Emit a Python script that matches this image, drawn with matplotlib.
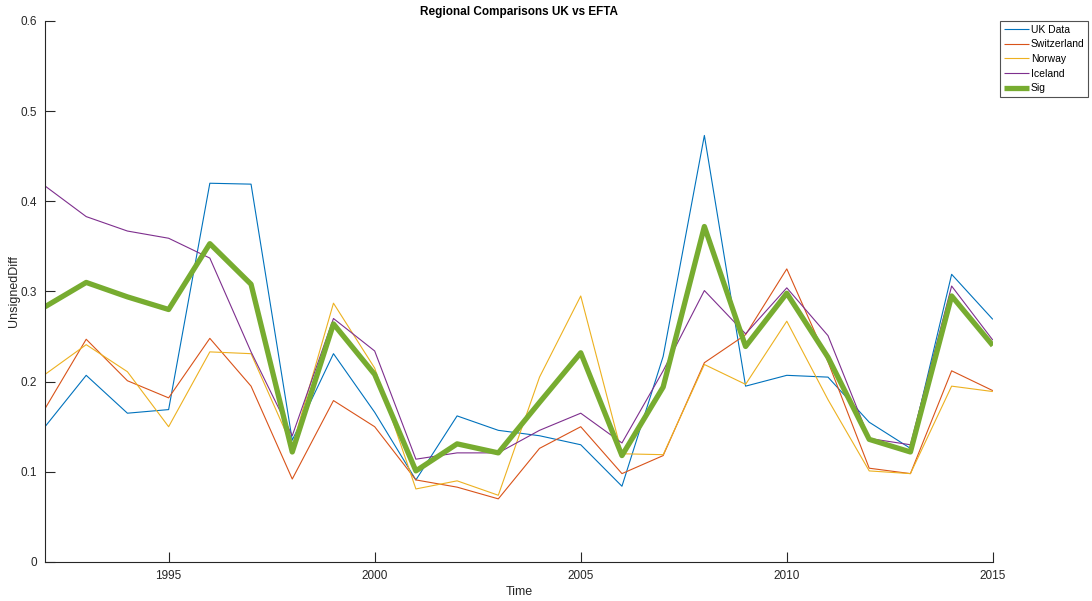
import numpy as np
import matplotlib.pyplot as plt

plt.rcParams['font.family'] = ['Liberation Sans', 'DejaVu Sans']

years = np.arange(1992, 2016)

uk_data = [0.150, 0.207, 0.165, 0.169, 0.420, 0.419, 0.135, 0.231, 0.166, 0.091,
           0.162, 0.146, 0.140, 0.130, 0.084, 0.228, 0.473, 0.195, 0.207, 0.205,
           0.155, 0.126, 0.319, 0.269]
switzerland = [0.170, 0.247, 0.201, 0.182, 0.248, 0.195, 0.092, 0.179, 0.150, 0.091,
               0.083, 0.070, 0.126, 0.150, 0.098, 0.118, 0.221, 0.252, 0.325, 0.222,
               0.104, 0.098, 0.212, 0.190]
norway = [0.208, 0.241, 0.211, 0.150, 0.233, 0.231, 0.128, 0.287, 0.215, 0.081,
          0.090, 0.074, 0.205, 0.295, 0.120, 0.119, 0.219, 0.197, 0.267, 0.180,
          0.101, 0.098, 0.195, 0.189]
iceland = [0.417, 0.383, 0.367, 0.359, 0.337, 0.233, 0.140, 0.270, 0.234, 0.114,
           0.121, 0.121, 0.146, 0.165, 0.132, 0.212, 0.301, 0.253, 0.304, 0.251,
           0.137, 0.130, 0.306, 0.246]
sig = [0.283, 0.310, 0.294, 0.280, 0.353, 0.308, 0.122, 0.264, 0.208, 0.101,
       0.131, 0.121, 0.177, 0.232, 0.118, 0.194, 0.372, 0.239, 0.298, 0.227,
       0.136, 0.122, 0.295, 0.240]

series = [
    ("UK Data", uk_data, "#0072BD", 0.8),
    ("Switzerland", switzerland, "#D95319", 0.8),
    ("Norway", norway, "#EDB120", 0.8),
    ("Iceland", iceland, "#7E2F8E", 0.8),
    ("Sig", sig, "#77AC30", 3.8),
]

fig = plt.figure(figsize=(10.92, 6.01), dpi=100)
ax = fig.add_axes([0.0412, 0.0649, 0.868, 0.9003])

for name, vals, color, lw in series:
    ax.plot(years, vals, color=color, linewidth=lw, label=name,
            solid_capstyle="butt")

ax.set_xlim(1992, 2015)
ax.set_ylim(0, 0.6)
ax.set_xticks([1995, 2000, 2005, 2010, 2015])
ax.set_yticks([0, 0.1, 0.2, 0.3, 0.4, 0.5, 0.6])
ax.set_yticklabels(["0", "0.1", "0.2", "0.3", "0.4", "0.5", "0.6"])

for side in ("top", "right"):
    ax.spines[side].set_visible(False)
for side in ("left", "bottom"):
    ax.spines[side].set_color("#262626")
    ax.spines[side].set_linewidth(0.8)
ax.tick_params(direction="in", length=7, width=0.8, colors="#262626",
               labelsize=8.5, pad=6)

ax.set_title("Regional Comparisons UK vs EFTA", fontsize=8.5,
             fontweight="bold", pad=4)
ax.set_xlabel("Time", fontsize=9, color="#262626", labelpad=3)
ax.set_ylabel("UnsignedDiff", fontsize=9, color="#262626", labelpad=0)

leg = ax.legend(loc="upper left", bbox_to_anchor=(1.0075, 1.0), fontsize=7.5,
                frameon=True, fancybox=False, handlelength=2.4,
                handletextpad=0.2, labelspacing=0.45, borderpad=0.35,
                borderaxespad=0)
leg.get_frame().set_edgecolor("#262626")
leg.get_frame().set_linewidth(0.8)

fig.savefig("out.png", dpi=100)
